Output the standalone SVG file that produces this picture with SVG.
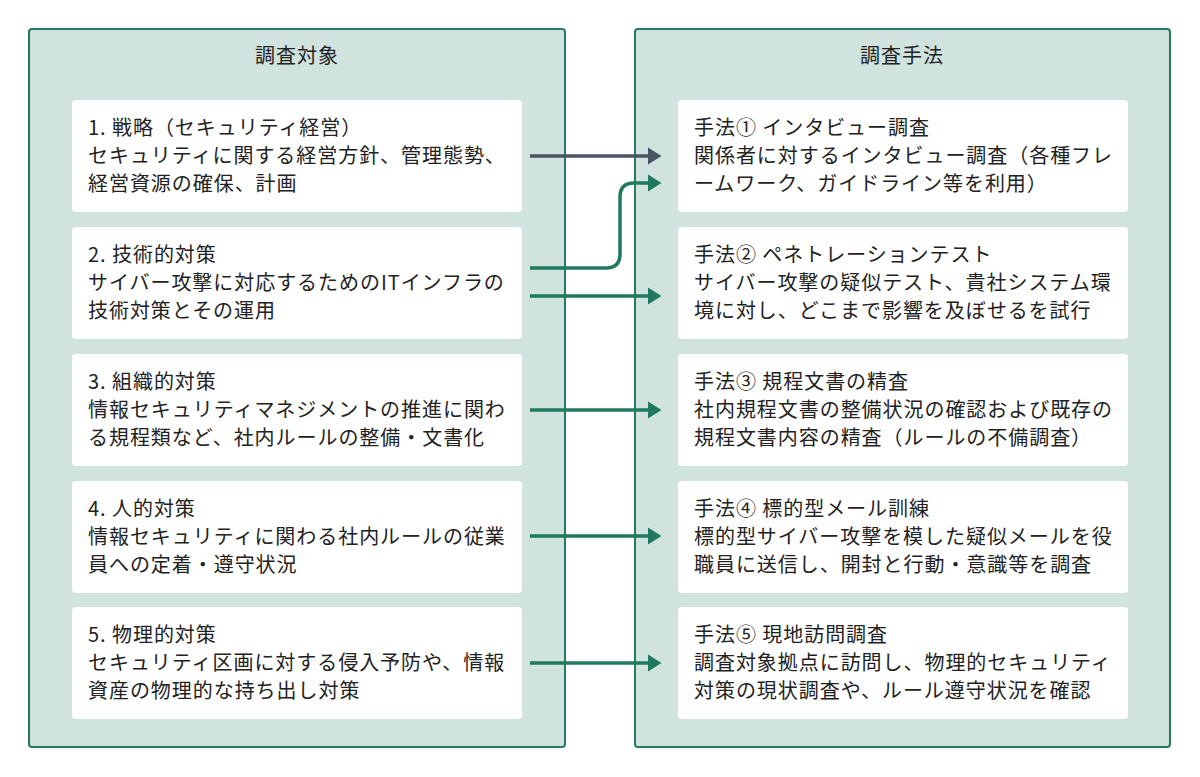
<svg xmlns="http://www.w3.org/2000/svg" width="1200" height="777" viewBox="0 0 1200 777">
<style>
.c{fill:#d0e3df;stroke:#267a62;stroke-width:2}
.b{fill:#fff}
text{font-family:"Noto Sans CJK JP","Noto Sans",sans-serif;font-size:20px;letter-spacing:0.95px;fill:#222}
.t{text-anchor:middle}
.e{fill:none;stroke:#1f7a5f;stroke-width:3.5}
.g{stroke:#4a5563}
</style>
<defs>
<marker id="ag" markerWidth="5" markerHeight="5" refX="3" refY="2.5" orient="auto" markerUnits="strokeWidth"><path d="M0,0L4,2.5L0,5z" fill="#1f7a5f"/></marker>
<marker id="ak" markerWidth="5" markerHeight="5" refX="3" refY="2.5" orient="auto" markerUnits="strokeWidth"><path d="M0,0L4,2.5L0,5z" fill="#4a5563"/></marker>
</defs>
<g id="left"><rect class="c" x="29" y="29" width="536" height="718" rx="3"/><text class="t" x="297" y="63">調査対象</text></g>
<g id="right"><rect class="c" x="635" y="29" width="535" height="718" rx="3"/><text class="t" x="902" y="63">調査手法</text></g>
<g id="s1"><rect class="b" x="72" y="100" width="450" height="112" rx="4"/><text x="88" y="135">1. 戦略（セキュリティ経営）</text><text x="88" y="163">セキュリティに関する経営方針、管理態勢、</text><text x="88" y="191">経営資源の確保、計画</text></g>
<g id="s2"><rect class="b" x="72" y="227" width="450" height="112" rx="4"/><text x="88" y="262">2. 技術的対策</text><text x="88" y="290">サイバー攻撃に対応するためのITインフラの</text><text x="88" y="318">技術対策とその運用</text></g>
<g id="s3"><rect class="b" x="72" y="354" width="450" height="112" rx="4"/><text x="88" y="389">3. 組織的対策</text><text x="88" y="417">情報セキュリティマネジメントの推進に関わ</text><text x="88" y="445">る規程類など、社内ルールの整備・文書化</text></g>
<g id="s4"><rect class="b" x="72" y="481" width="450" height="112" rx="4"/><text x="88" y="516">4. 人的対策</text><text x="88" y="544">情報セキュリティに関わる社内ルールの従業</text><text x="88" y="572">員への定着・遵守状況</text></g>
<g id="s5"><rect class="b" x="72" y="607" width="450" height="112" rx="4"/><text x="88" y="642">5. 物理的対策</text><text x="88" y="670">セキュリティ区画に対する侵入予防や、情報</text><text x="88" y="698">資産の物理的な持ち出し対策</text></g>
<g id="m1"><rect class="b" x="678" y="100" width="450" height="112" rx="4"/><text x="694" y="135">手法① インタビュー調査</text><text x="694" y="163">関係者に対するインタビュー調査（各種フレ</text><text x="694" y="191">ームワーク、ガイドライン等を利用）</text></g>
<g id="m2"><rect class="b" x="678" y="227" width="450" height="112" rx="4"/><text x="694" y="262">手法② ペネトレーションテスト</text><text x="694" y="290">サイバー攻撃の疑似テスト、貴社システム環</text><text x="694" y="318">境に対し、どこまで影響を及ぼせるを試行</text></g>
<g id="m3"><rect class="b" x="678" y="354" width="450" height="112" rx="4"/><text x="694" y="389">手法③ 規程文書の精査</text><text x="694" y="417">社内規程文書の整備状況の確認および既存の</text><text x="694" y="445">規程文書内容の精査（ルールの不備調査）</text></g>
<g id="m4"><rect class="b" x="678" y="481" width="450" height="112" rx="4"/><text x="694" y="516">手法④ 標的型メール訓練</text><text x="694" y="544">標的型サイバー攻撃を模した疑似メールを役</text><text x="694" y="572">職員に送信し、開封と行動・意識等を調査</text></g>
<g id="m5"><rect class="b" x="678" y="607" width="450" height="112" rx="4"/><text x="694" y="642">手法⑤ 現地訪問調査</text><text x="694" y="670">調査対象拠点に訪問し、物理的セキュリティ</text><text x="694" y="698">対策の現状調査や、ルール遵守状況を確認</text></g>
<g id="edges">
<path class="e g" d="M530,156H658" marker-end="url(#ak)"/>
<path class="e" d="M530,268H606Q620,268 620,254V197Q620,183 634,183H658" marker-end="url(#ag)"/>
<path class="e" d="M530,296H658" marker-end="url(#ag)"/>
<path class="e" d="M530,410H658" marker-end="url(#ag)"/>
<path class="e" d="M530,536H658" marker-end="url(#ag)"/>
<path class="e" d="M530,663H658" marker-end="url(#ag)"/>
</g>
</svg>
